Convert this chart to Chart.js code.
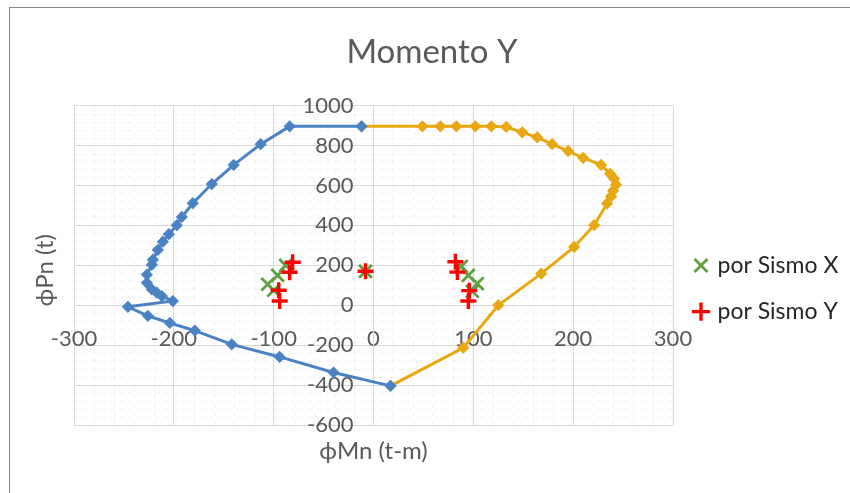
<!DOCTYPE html>
<html>
<head>
<meta charset="utf-8">
<script src="https://cdn.jsdelivr.net/npm/chart.js@4.4.1/dist/chart.umd.min.js"></script>
<style>
  html, body { margin: 0; padding: 0; background: #ffffff; }
  #wrap { position: relative; width: 850px; height: 493px; overflow: hidden; background: #fff; }
  #frame { position: absolute; left: 9px; top: 7px; width: 900px; height: 600px; border: 1.5px solid #8a8a8a; box-sizing: border-box; pointer-events: none; }
  canvas { position: absolute; left: 0; top: 0; }
</style>
</head>
<body>
<div id="wrap">
  <canvas id="c" width="850" height="493"></canvas>
  <div id="frame"></div>
</div>
<script>
// ---- data ----
const blueM = [-12, -84, -113, -140, -162, -181, -192, -197, -205, -211, -216, -221, -222, -227, -227, -222, -217, -212, -201, -246, -226, -204, -179, -142, -94, -40, 17];
const blueP = [896, 896, 807, 703, 607, 511, 442, 401, 356, 318, 277, 228, 203, 153, 112, 79, 63, 46, 21, -8, -53, -89, -127, -196, -259, -337, -404];

const orangeM = [-12, 49, 67, 83, 102, 118, 133, 149, 164, 179, 195, 210, 228, 237, 241, 243, 240, 238, 234, 221, 201, 168, 125, 90, 17];
const orangeP = [896, 896, 896, 896, 896, 896, 893, 866, 841, 807, 772, 738, 703, 658, 634, 604, 574, 545, 510, 401, 292, 158, 0, -213, -404];

const sismoXM = [-88, -96, -106, -100, -8, 88, 95, 104, 99];
const sismoXP = [200, 150, 105, 75, 170, 195, 150, 108, 70];

const sismoYM = [-81, -84, -95, -94, -8, 82, 84, 96, 95];
const sismoYP = [215, 165, 75, 21, 170, 218, 166, 73, 21];

const xTicks = [-300, -200, -100, 0, 100, 200, 300];
const yTicks = [-600, -400, -200, 0, 200, 400, 600, 800, 1000];

const seriesNames = ['', '', 'por Sismo X', 'por Sismo Y'];
const chartTitle = 'Momento Y';
const xTitle = 'ϕMn (t-m)';
const yTitle = 'ϕPn (t)';

function pts(xs, ys) { return xs.map((v, i) => ({ x: v, y: ys[i] })); }

const FONT = 'Lato, "Open Sans", sans-serif';
const TXT = '#595959';
const GRID = '#d9d9d9';
const Y_LABEL_GAP = 20;

const helper = {
  id: 'helper',
  beforeDraw(chart) {
    const { ctx, chartArea: a, scales: { x, y } } = chart;
    // y tick labels sit a little left of the vertical axis (as in the reference)
    const items = y.getLabelItems();
    if (!y._gapApplied) {
      items.forEach(it => { it.options.translation[0] -= Y_LABEL_GAP; });
      y._gapApplied = true;
    }
    ctx.save();
    ctx.fillStyle = '#fff';
    ctx.fillRect(0, 0, chart.width, chart.height);
    ctx.strokeStyle = 'rgba(0,0,0,0.055)';
    ctx.lineWidth = 1;
    ctx.setLineDash([5, 4]);
    for (let v = -300; v <= 300; v += 20) {
      if (v % 100 === 0) continue;
      const px = Math.round(x.getPixelForValue(v)) + 0.5;
      ctx.beginPath(); ctx.moveTo(px, a.top); ctx.lineTo(px, a.bottom); ctx.stroke();
    }
    for (let v = -600; v <= 1000; v += 40) {
      if (v % 200 === 0) continue;
      const py = Math.round(y.getPixelForValue(v)) + 0.5;
      ctx.beginPath(); ctx.moveTo(a.left, py); ctx.lineTo(a.right, py); ctx.stroke();
    }
    ctx.restore();
  },
  afterDraw(chart) {
    const { ctx, chartArea: a, scales: { x } } = chart;
    ctx.save();
    ctx.fillStyle = TXT;
    ctx.font = '24px ' + FONT;
    ctx.textAlign = 'center';
    ctx.textBaseline = 'middle';
    ctx.fillText(xTitle, x.getPixelForValue(0), a.bottom + 26);
    ctx.translate(45, (a.top + a.bottom) / 2 + 5);
    ctx.rotate(-Math.PI / 2);
    ctx.fillText(yTitle, 0, 0);
    ctx.restore();
  }
};

new Chart(document.getElementById('c'), {
  type: 'scatter',
  data: {
    datasets: [
      {
        label: seriesNames[0], data: pts(blueM, blueP), showLine: true,
        borderColor: '#4a82c3', backgroundColor: '#4a82c3', borderWidth: 3,
        pointStyle: 'rectRot', pointRadius: 4, pointHoverRadius: 4, tension: 0, order: 3
      },
      {
        label: seriesNames[1], data: pts(orangeM, orangeP), showLine: true,
        borderColor: '#e8a812', backgroundColor: '#e8a812', borderWidth: 3,
        pointStyle: 'rectRot', pointRadius: 4, pointHoverRadius: 4, tension: 0, order: 4
      },
      {
        label: seriesNames[2], data: pts(sismoXM, sismoXP), showLine: false,
        borderColor: '#5f9e3f', backgroundColor: '#5f9e3f', borderWidth: 2.8,
        pointStyle: 'crossRot', pointRadius: 9, pointHoverRadius: 9, order: 2
      },
      {
        label: seriesNames[3], data: pts(sismoYM, sismoYP), showLine: false,
        borderColor: '#ff0000', backgroundColor: '#ff0000', borderWidth: 3.4,
        pointStyle: 'cross', pointRadius: 8, pointHoverRadius: 8, order: 1
      }
    ]
  },
  options: {
    responsive: false,
    animation: false,
    layout: { padding: { left: 21, right: 7, top: 10, bottom: 68 } },
    plugins: {
      tooltip: { enabled: false },
      title: {
        display: true, text: chartTitle, color: TXT,
        font: { family: FONT, size: 33, weight: 'normal', lineHeight: 1.2 },
        padding: { top: 23, bottom: 33 }
      },
      legend: {
        position: 'right',
        align: 'start',
        fullSize: false,
        maxWidth: 170,
        title: { display: true, text: ' ', font: { size: 10, lineHeight: 1 }, padding: { top: 115.5, bottom: 0 } },
        labels: {
          color: '#262626',
          font: { family: FONT, size: 23, lineHeight: 1 },
          usePointStyle: true,
          boxWidth: 10, boxHeight: 13,
          padding: 23,
          sort: (a, b) => a.datasetIndex - b.datasetIndex,
          filter: (item) => item.text !== ''
        }
      }
    },
    scales: {
      pad: {
        type: 'linear', position: 'left', display: true,
        ticks: { display: false }, grid: { display: false }, border: { display: false },
        afterFit: (s) => { s.width = 53; }
      },
      x: {
        type: 'linear', min: -300, max: 300,
        position: { y: 0 },
        afterBuildTicks: (s) => { s.ticks = xTicks.map(v => ({ value: v })); },
        ticks: { color: TXT, font: { family: FONT, size: 22 }, padding: 20, maxRotation: 0, callback: (v) => String(v) },
        grid: { color: GRID, lineWidth: 1, drawTicks: false },
        border: { color: GRID, width: 1 }
      },
      y: {
        type: 'linear', min: -600, max: 1000,
        position: { x: 0 },
        afterBuildTicks: (s) => { s.ticks = yTicks.map(v => ({ value: v })); },
        afterUpdate: (s) => { s._gapApplied = false; },
        ticks: { color: TXT, font: { family: FONT, size: 22 }, padding: 0, callback: (v) => String(v) },
        grid: { color: GRID, lineWidth: 1, drawTicks: false },
        border: { color: GRID, width: 1 }
      }
    }
  },
  plugins: [helper]
});
</script>
</body>
</html>
